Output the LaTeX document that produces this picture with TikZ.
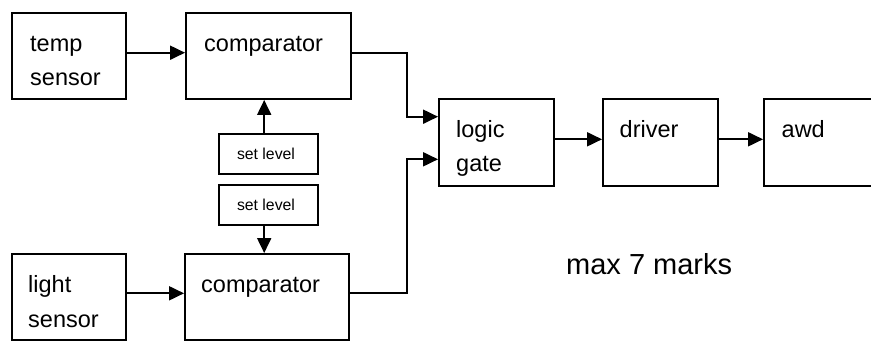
\documentclass[tikz,border=0pt]{standalone}
\usepackage{fontspec}
\setmainfont{Liberation Sans}
\usetikzlibrary{arrows.meta}
\begin{document}
\begin{tikzpicture}[x=1pt,y=-1pt,
  box/.style={draw,line width=1.9pt,inner sep=0pt,minimum width=#1},
  box/.default=114pt,
  arr/.style={line width=1.9pt,-{Triangle[length=15pt,width=14pt]}},
  lbl/.style={anchor=base west,inner sep=0pt,font=\fontsize{23.5}{34}\selectfont},
  small/.style={anchor=base,inner sep=0pt,font=\fontsize{15.8}{19}\selectfont}]
\clip (0,0) rectangle (871,341);
\fill[white] (0,0) rectangle (871,341);
% boxes
\node[box=114pt,minimum height=86pt] (ts) at (69,56) {};
\node[box=165pt,minimum height=86pt] (c1) at (268.5,56) {};
\node[box=99pt,minimum height=40pt] (sl1) at (268.5,154) {};
\node[box=99pt,minimum height=40pt] (sl2) at (268.5,205) {};
\node[box=114pt,minimum height=86pt] (ls) at (69,297) {};
\node[box=164pt,minimum height=86pt] (c2) at (267,297) {};
\node[box=115pt,minimum height=87pt] (lg) at (496.5,142.5) {};
\node[box=115pt,minimum height=87pt] (dr) at (660.5,142.5) {};
\node[box=136pt,minimum height=87pt] (aw) at (832,142.5) {};
% texts
\node[lbl] (t1) at (30,51) {temp};
\node[lbl] (t2) at (30,85) {sensor};
\node[lbl] (t3) at (204,51) {comparator};
\node[lbl] (t4) at (28,292) {light};
\node[lbl] (t5) at (28,327) {sensor};
\node[lbl] (t6) at (201,292) {comparator};
\node[lbl] (t7) at (456,137) {logic};
\node[lbl] (t8) at (456,171) {gate};
\node[lbl] (t9) at (619.5,137) {driver};
\node[lbl] (t10) at (781.5,137) {awd};
\node[small] (s1) at (266,159.3) {set level};
\node[small] (s2) at (266,210) {set level};
\node[anchor=base west,inner sep=0pt,font=\fontsize{29}{35}\selectfont] (mx) at (566,274) {max 7 marks};
% connectors
\draw[arr] ([yshift=3.3pt]ts.east) -- ([yshift=3.3pt]ts.east -| c1.west);
\draw[arr] ([yshift=3.7pt]ls.east) -- ([yshift=3.7pt]ls.east -| c2.west);
\draw[arr] ([xshift=-4.3pt]sl1.north) -- ([xshift=-4.3pt]sl1.north |- c1.south);
\draw[arr] ([xshift=-4.3pt]sl2.south) -- ([xshift=-4.3pt]sl2.south |- c2.north);
\draw[arr] ([yshift=3.3pt]c1.east) -- ++(55,0) |- ([yshift=25.8pt]lg.west);
\draw[arr] ([yshift=3.7pt]c2.east) -- ++(57,0) |- ([yshift=-16.8pt]lg.west);
\draw[arr] ([yshift=3.2pt]lg.east) -- ([yshift=3.2pt]lg.east -| dr.west);
\draw[arr] ([yshift=3.2pt]dr.east) -- ([yshift=3.2pt]dr.east -| aw.west);
\end{tikzpicture}
\end{document}
